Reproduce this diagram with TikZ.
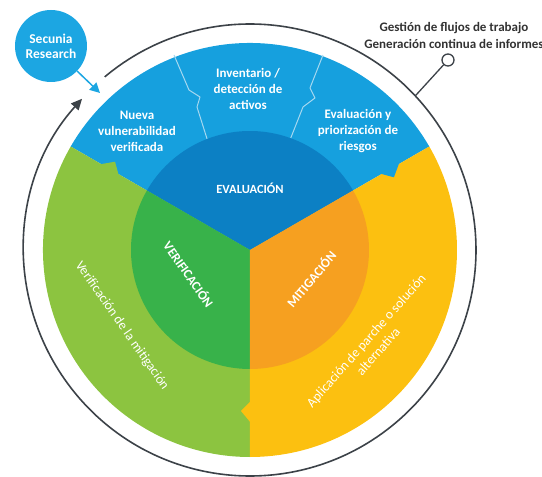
\documentclass[tikz,border=0pt]{standalone}
\usepackage{fontspec}
\setmainfont{Carlito}
\usetikzlibrary{calc,arrows.meta}
\definecolor{bluO}{RGB}{22,160,222}
\definecolor{bluI}{RGB}{12,128,196}
\definecolor{grnO}{RGB}{140,196,64}
\definecolor{grnI}{RGB}{56,178,74}
\definecolor{yelO}{RGB}{252,192,16}
\definecolor{orgI}{RGB}{246,160,32}
\definecolor{secu}{RGB}{28,166,226}
\definecolor{ringc}{RGB}{60,66,72}
\definecolor{divl}{RGB}{165,216,240}
\definecolor{txtd}{RGB}{50,50,50}
\begin{document}
\begin{tikzpicture}[x=1pt,y=1pt,
  lbl/.style={text=white, align=center, inner sep=0pt, font=\fontsize{13}{16}\selectfont\bfseries},
  lbltwo/.style={text=white, align=center, inner sep=0pt, font=\fontsize{13.5}{16}\selectfont},
  divider/.style={divl, line width=1pt, line join=round}]
\useasboundingbox (-250,-227) rectangle (292,250);
% outer sectors
\foreach \a/\c in {30/bluO,150/grnO,270/yelO}{
  \fill[\c] (0,0) -- (\a:207) arc[start angle=\a, delta angle=120, radius=207] -- cycle;}
% notches (previous sector protrudes clockwise)
\foreach \a/\c in {150/grnO,30/bluO,270/yelO}{
  \fill[\c] ($(\a:151)+(\a+90:1)$) -- ($(\a:161)+(\a-90:9)$) -- ($(\a:173)+(\a+90:1)$) -- cycle;}
% dividers in the blue band
\draw[divider] (-76,195) -- (-61,160) -- (-50,153) -- (-53,143) -- (-41,105);
\draw[divider] (73,195) -- (60,162) -- (65,152) -- (53,143) -- (38,105);
% inner sectors
\foreach \a/\c in {30/bluI,150/grnI,270/orgI}{
  \fill[\c] (0,0) -- (\a:119) arc[start angle=\a, delta angle=120, radius=119] -- cycle;}
% outer ring with arrow
\draw[ringc, line width=1.6pt, -{Triangle[length=11pt,width=10pt]}]
  (130:226) arc[start angle=130, end angle=-222, radius=226];
% pin
\coordinate (pinbase) at (43:226);
\node[circle, draw=ringc, line width=1.3pt, fill=white, minimum size=12pt, inner sep=0pt] (pin) at (198,190) {};
\draw[ringc, line width=1.3pt] (pinbase) -- (pin);
\node[text=txtd, align=center, font=\fontsize{13}{17}\selectfont\bfseries] (gest) at (204,214.5)
  {Gestión de flujos de trabajo\\Generación continua de informes};
% Secunia
\node[circle, fill=secu, minimum size=72pt, inner sep=0pt, text=white, align=center,
  font=\fontsize{13.5}{15}\selectfont\bfseries] (sec) at (-199,204) {Secunia\\Research};
\coordinate (secin) at (-150,157);
\draw[secu, line width=1.5pt, -{Triangle[length=10pt,width=10pt]}] (sec) -- (secin);
% labels
\node[lbl] (nueva) at (-113,119) {Nueva\\vulnerabilidad\\verificada};
\node[lbl] (inv) at (-2,161) {Inventario /\\detección de\\activos};
\node[lbl] (evr) at (108,119) {Evaluación y\\priorización de\\riesgos};
\node[lbl, font=\fontsize{12.5}{16}\selectfont\bfseries] (eval) at (0,62) {EVALUACIÓN};
\node[lbl, rotate=-55] (verif) at (-61,-24) {VERIFICACIÓN};
\node[lbl, rotate=50] (mitig) at (61,-29) {MITIGACIÓN};
\node[lbltwo, rotate=-55] (vm) at (-128,-76) {Verificación de la mitigación};
\node[lbltwo, rotate=48.5] (apl) at (122,-96) {Aplicación de parche o solución\\alternativa};
\end{tikzpicture}
\end{document}
